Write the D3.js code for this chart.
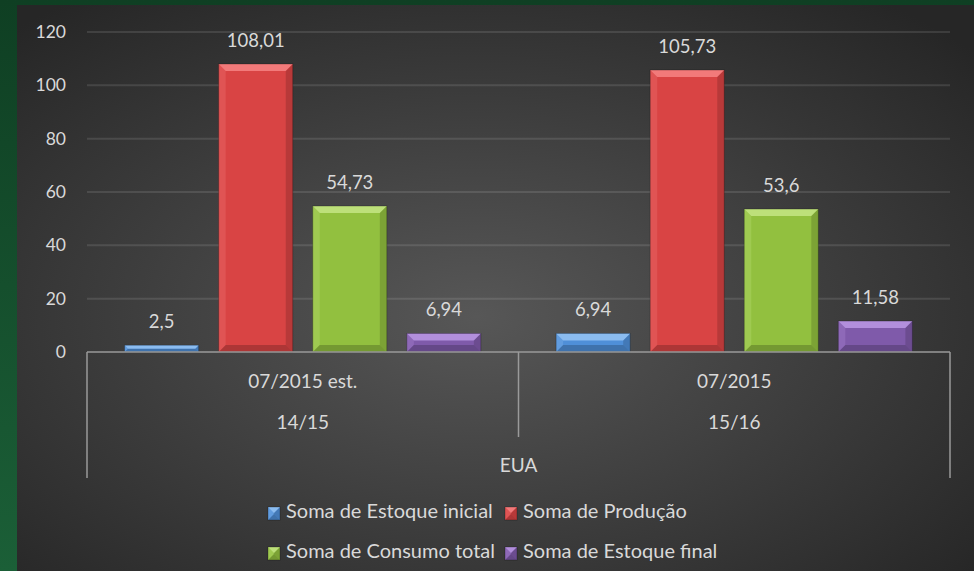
<!DOCTYPE html>
<html><head><meta charset="utf-8">
<script src="https://cdn.jsdelivr.net/npm/d3@7"></script>
<style>html,body{margin:0;padding:0;background:#134a2a;}svg{display:block;}</style>
</head><body>
<svg id="c" width="974" height="571"></svg>
<script>
const groups = ["14/15", "15/16"];
const subLabels = ["07/2015 est.", "07/2015"];
const outerLabel = "EUA";
const series = ["Soma de Estoque inicial", "Soma de Produção", "Soma de Consumo total", "Soma de Estoque final"];
const estoqueInicial = [2.5, 6.94];
const producao = [108.01, 105.73];
const consumoTotal = [54.73, 53.6];
const estoqueFinal = [6.94, 11.58];
const seriesValues = [estoqueInicial, producao, consumoTotal, estoqueFinal];
const yTicks = [0, 20, 40, 60, 80, 100, 120];
const colors = ["#4f8fd8", "#d94444", "#92c03f", "#7f5aaa"];
const lightColors = ["#8bbcf0", "#f27a7a", "#bde07a", "#b28fdc"];

const svg = d3.select("#c");
const W = 974, H = 571;
const defs = svg.append("defs");
const gGreen = defs.append("linearGradient").attr("id","gGreen").attr("x1",0).attr("y1",0).attr("x2",0).attr("y2",1);
gGreen.append("stop").attr("offset","0%").attr("stop-color","#0f3f23");
gGreen.append("stop").attr("offset","100%").attr("stop-color","#1b5f37");
const rg = defs.append("radialGradient").attr("id","bg").attr("cx","48%").attr("cy","55%").attr("r","70%");
rg.append("stop").attr("offset","0%").attr("stop-color","#575757");
rg.append("stop").attr("offset","100%").attr("stop-color","#262626");

svg.append("rect").attr("width",W).attr("height",H).attr("fill","url(#gGreen)");
svg.append("rect").attr("x",17).attr("y",5).attr("width",W-17).attr("height",H-5).attr("fill","url(#bg)");

const font = "Lato, 'Open Sans', sans-serif";
const txtCol = "#d9d9d9";

const pL = 87, pR = 950, pT = 32, pB = 352;
const y = d3.scaleLinear().domain([0,120]).range([pB, pT]);
const x0 = d3.scaleBand().domain(groups).range([pL, pR]).paddingInner(0).paddingOuter(0);
const x1 = d3.scaleBand().domain(series).range([0, x0.bandwidth()]).paddingInner(0.213).paddingOuter(0.4);

// gridlines
svg.append("g").selectAll("line").data(yTicks.filter(d=>d>0)).join("line")
  .attr("x1",pL).attr("x2",pR).attr("y1",d=>y(d)).attr("y2",d=>y(d))
  .attr("stroke","rgba(255,255,255,0.11)").attr("stroke-width",2);

// y axis labels
const yAxis = d3.axisLeft(y).tickValues(yTicks).tickSize(0).tickPadding(0).tickFormat(d=>String(d));
const ya = svg.append("g").attr("transform","translate(66,0)").call(yAxis);
ya.select(".domain").remove();
ya.selectAll("text").attr("fill",txtCol).attr("font-family",font).attr("font-size",17.5);

const fmt = v => String(v).replace(".", ",");

function bevelBar(g, x, yTop, w, h, c, lc) {
  const b = Math.min(7, h/2);
  g.append("rect").attr("x",x).attr("y",yTop).attr("width",w).attr("height",h).attr("fill",c);
  g.append("polygon").attr("points",[[x,yTop],[x+w,yTop],[x+w-b,yTop+b],[x+b,yTop+b]].map(p=>p.join(",")).join(" "))
    .attr("fill",lc);
  g.append("polygon").attr("points",[[x,yTop],[x+b,yTop+b],[x+b,yTop+h-b],[x,yTop+h]].map(p=>p.join(",")).join(" "))
    .attr("fill",lc).attr("opacity",0.3);
  g.append("polygon").attr("points",[[x+w,yTop],[x+w-b,yTop+b],[x+w-b,yTop+h-b],[x+w,yTop+h]].map(p=>p.join(",")).join(" "))
    .attr("fill","#000").attr("opacity",0.15);
  g.append("polygon").attr("points",[[x,yTop+h],[x+b,yTop+h-b],[x+w-b,yTop+h-b],[x+w,yTop+h]].map(p=>p.join(",")).join(" "))
    .attr("fill","#000").attr("opacity",0.2);
  g.append("rect").attr("x",x).attr("y",yTop).attr("width",w).attr("height",h).attr("fill","none")
    .attr("stroke","#000").attr("stroke-opacity",0.25).attr("stroke-width",1);
}

const barsG = svg.append("g");
groups.forEach((gName, gi) => {
  series.forEach((s, si) => {
    const v = seriesValues[si][gi];
    const bx = x0(gName) + x1(s);
    const bw = x1.bandwidth();
    bevelBar(barsG, bx, y(v), bw, y(0)-y(v), colors[si], lightColors[si]);
    barsG.append("text").attr("x", bx + bw/2).attr("y", y(v) - 17)
      .attr("text-anchor","middle").attr("fill",txtCol).attr("font-family",font).attr("font-size",18.5)
      .text(fmt(v));
  });
});

// category axis
const axCol = "#9a9a9a";
svg.append("line").attr("x1",pL).attr("x2",pR).attr("y1",pB).attr("y2",pB)
  .attr("stroke",axCol).attr("stroke-width",1.5);
svg.append("line").attr("x1",pL).attr("x2",pL).attr("y1",pB).attr("y2",478).attr("stroke",axCol).attr("stroke-width",1.5);
svg.append("line").attr("x1",pR).attr("x2",pR).attr("y1",pB).attr("y2",478).attr("stroke",axCol).attr("stroke-width",1.5);
svg.append("line").attr("x1",x0(groups[1])).attr("x2",x0(groups[1])).attr("y1",pB).attr("y2",437).attr("stroke",axCol).attr("stroke-width",1.5);

groups.forEach((gName, gi) => {
  const cx = x0(gName) + x0.bandwidth()/2;
  svg.append("text").attr("x",cx).attr("y",388).attr("text-anchor","middle").attr("fill",txtCol)
    .attr("font-family",font).attr("font-size",19).text(subLabels[gi]);
  svg.append("text").attr("x",cx).attr("y",429).attr("text-anchor","middle").attr("fill",txtCol)
    .attr("font-family",font).attr("font-size",19).text(gName);
});
svg.append("text").attr("x",(pL+pR)/2).attr("y",472).attr("text-anchor","middle").attr("fill",txtCol)
  .attr("font-family",font).attr("font-size",19).text(outerLabel);

// legend
const legPos = [[268,518],[505,518],[268,558],[505,558]];
series.forEach((s, si) => {
  const [lx, ly] = legPos[si];
  const lg = svg.append("g");
  bevelBar(lg, lx, ly-11, 12, 13, colors[si], lightColors[si]);
  lg.append("text").attr("x", lx+18).attr("y", ly).attr("fill",txtCol)
    .attr("font-family",font).attr("font-size",20).text(s);
});
</script>
</body></html>
